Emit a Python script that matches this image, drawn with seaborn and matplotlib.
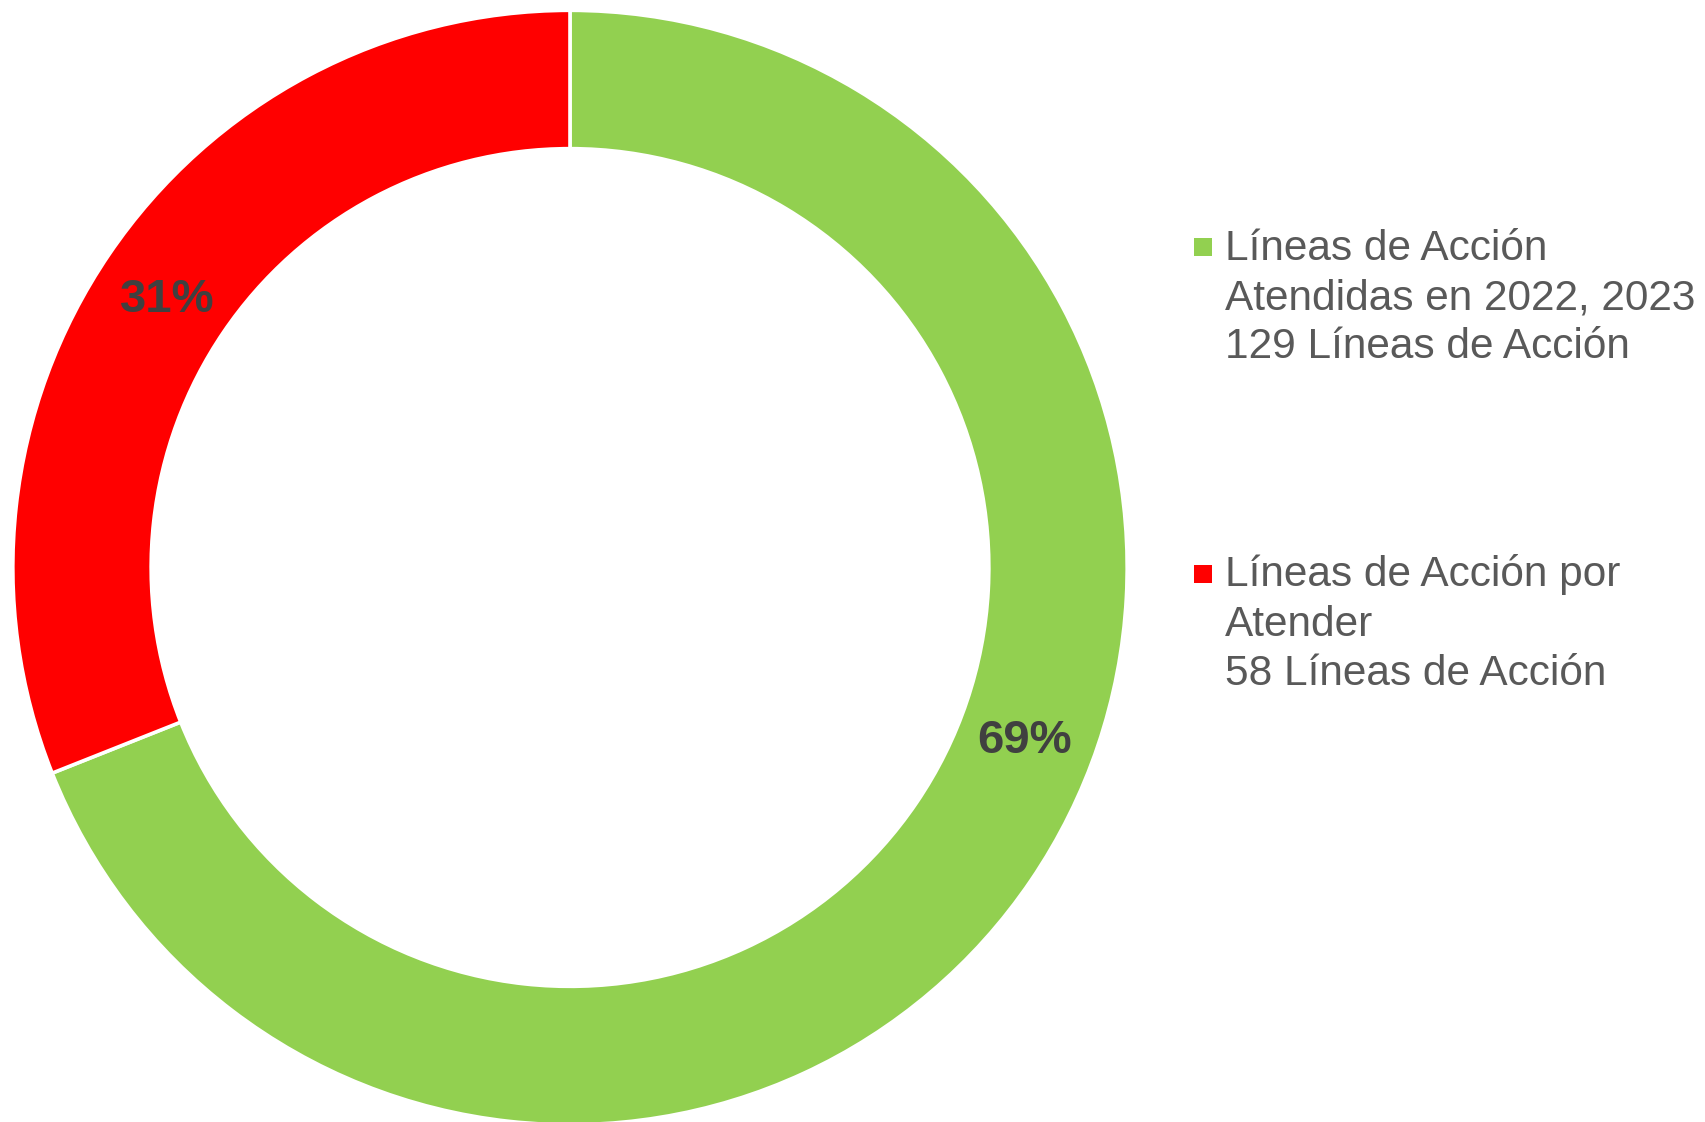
import matplotlib
matplotlib.use("Agg")
import matplotlib.pyplot as plt
from matplotlib.patches import Rectangle
import numpy as np
import seaborn as sns

# ---- data ----
categories = ["Líneas de Acción\nAtendidas en 2022, 2023\n129 Líneas de Acción",
              "Líneas de Acción por\nAtender\n58 Líneas de Acción"]
counts = [129, 58]
colors = ["#92D050", "#FF0000"]

sns.set_theme(style="white")
plt.rcParams["font.family"] = ["Liberation Sans", "DejaVu Sans"]

W, H = 1706, 1122
fig = plt.figure(figsize=(W / 100, H / 100), dpi=100)
fig.patch.set_facecolor("white")

# donut axes: centre (570, 567.5) px from top-left, outer radius ~555.5 px
cx, cy, R = 570.0, 567.5, 555.5
ax = fig.add_axes([(cx - R) / W, (H - cy - R) / H, 2 * R / W, 2 * R / H])

wedges, texts, autotexts = ax.pie(
    counts, colors=colors, startangle=90, counterclock=False,
    radius=1.003,
    wedgeprops=dict(width=0.249, edgecolor="white", linewidth=2.6),
    autopct="%.0f%%", pctdistance=0.875,
    textprops=dict(fontsize=34, fontweight="bold", color="#404040"),
)
ax.set_xlim(-1, 1)
ax.set_ylim(-1, 1)
ax.set_aspect("equal")
ax.axis("off")

# label placement (Excel-like)
autotexts[0].set_position((0.819, -0.313))
autotexts[1].set_position((-0.7255, 0.481))

# legend drawn in pixel space
lax = fig.add_axes([0, 0, 1, 1])
lax.set_xlim(0, W)
lax.set_ylim(H, 0)
lax.axis("off")
lax.patch.set_alpha(0)

marker_tops = [238, 565]
baselines = [[260, 309, 358], [586, 636, 685]]
for label, col, mt, bls in zip(categories, colors, marker_tops, baselines):
    lax.add_patch(Rectangle((1194, mt), 18, 18, facecolor=col, edgecolor="none"))
    for line, bl in zip(label.split("\n"), bls):
        lax.text(1225, bl, line, fontsize=30.5, color="#595959",
                 ha="left", va="baseline")

fig.savefig("out.png", dpi=100, facecolor="white")
